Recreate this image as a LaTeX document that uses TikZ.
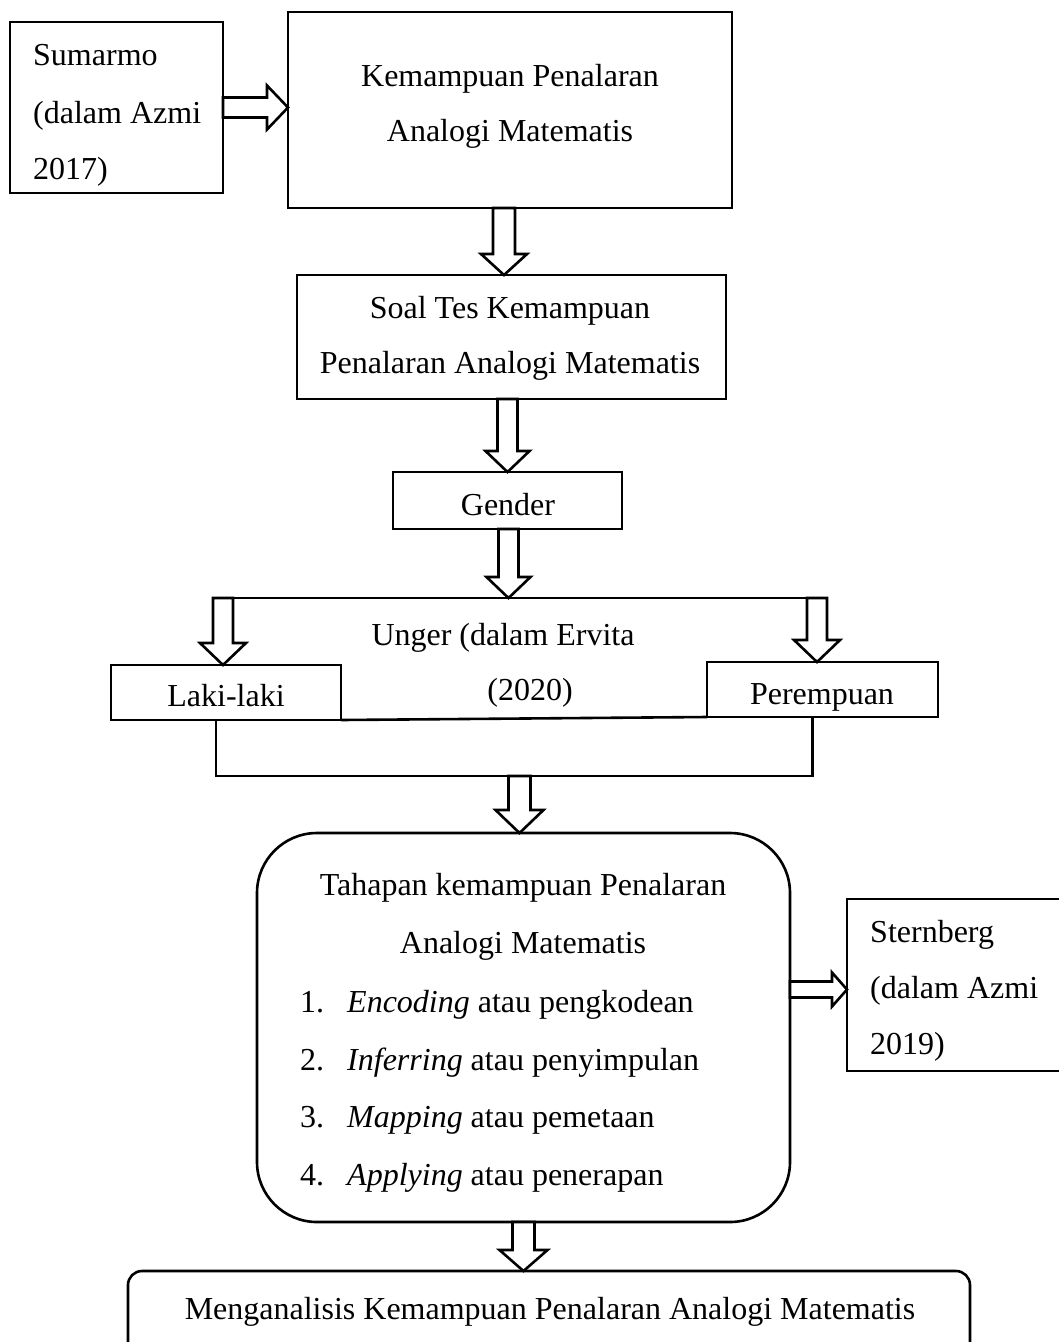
\documentclass[tikz,border=0pt]{standalone}
\usepackage{fontspec}
\setmainfont{Liberation Serif}
\usetikzlibrary{calc}
\newcommand{\vblock}[5]{\draw[arrb] let \p1=(#1), \p2=(#2) in
  (\x1-#3,\y1) -- (\x1+#3,\y1) -- (\x1+#3,\y2+#5) -- (\x1+#4,\y2+#5) -- (\x1,\y2)
  -- (\x1-#4,\y2+#5) -- (\x1-#3,\y2+#5) -- cycle;}
\newcommand{\hblock}[5]{\draw[arrb] let \p1=(#1), \p2=(#2) in
  (\x1,\y1+#3) -- (\x2-#5,\y1+#3) -- (\x2-#5,\y1+#4) -- (\x2,\y1)
  -- (\x2-#5,\y1-#4) -- (\x2-#5,\y1-#3) -- (\x1,\y1-#3) -- cycle;}
\begin{document}
\begin{tikzpicture}[x=1pt,y=-1pt,
  bx/.style={draw,line width=2.6pt,inner sep=0pt,outer sep=0pt},
  txt/.style={inner sep=0pt,font=\fontsize{32}{38}\selectfont},
  ln/.style={line width=2.6pt},
  arrb/.style={draw,fill=white,line width=2.6pt,line join=miter}]
\clip (0,0) rectangle (1059,1342);
\fill[white] (0,0) rectangle (1059,1342);
% boxes
\node[bx,minimum width=213pt,minimum height=171pt] (sum) at (116.5,107.5) {};
\node[bx,minimum width=444pt,minimum height=196pt] (kem) at (510,110) {};
\node[bx,minimum width=429pt,minimum height=124pt] (soal) at (511.5,337) {};
\node[bx,minimum width=229pt,minimum height=57pt] (gen) at (507.5,500.5) {};
\node[bx,minimum width=230pt,minimum height=55pt] (laki) at (226,692.5) {};
\node[bx,minimum width=231pt,minimum height=55pt] (per) at (822.5,689.5) {};
\node[bx,rounded corners=60pt,minimum width=533pt,minimum height=389pt] (tah) at (523.5,1027.5) {};
\node[bx,minimum width=218pt,minimum height=172pt] (stb) at (956,985) {};
\node[bx,rounded corners=14pt,minimum width=842pt,minimum height=90pt] (fin) at (549,1316) {};
% texts
\node[txt,anchor=base west] (t1) at (33,65) {Sumarmo};
\node[txt,anchor=base west] (t2) at (33,123) {(dalam Azmi};
\node[txt,anchor=base west] (t3) at (33,179) {2017)};
\node[txt,anchor=base] (t4) at (510,86) {Kemampuan Penalaran};
\node[txt,anchor=base] (t5) at (510,141) {Analogi Matematis};
\node[txt,anchor=base] (t6) at (510,318) {Soal Tes Kemampuan};
\node[txt,anchor=base] (t7) at (510,373) {Penalaran Analogi Matematis};
\node[txt,anchor=base] (t8) at (508,515) {Gender};
\node[txt,anchor=base] (t9) at (226,706) {Laki-laki};
\node[txt,anchor=base] (t10) at (822,704) {Perempuan};
\node[txt,anchor=base] (t11) at (503,645) {Unger (dalam Ervita};
\node[txt,anchor=base] (t12) at (530,700) {(2020)};
\node[txt,anchor=base] (t13) at (523,895) {Tahapan kemampuan Penalaran};
\node[txt,anchor=base] (t14) at (523,953) {Analogi Matematis};
\node[txt,anchor=base west] (n1) at (300,1012) {1.};
\node[txt,anchor=base west] (i1) at (347,1012) {\textit{Encoding} atau pengkodean};
\node[txt,anchor=base west] (n2) at (300,1070) {2.};
\node[txt,anchor=base west] (i2) at (347,1070) {\textit{Inferring} atau penyimpulan};
\node[txt,anchor=base west] (n3) at (300,1127) {3.};
\node[txt,anchor=base west] (i3) at (347,1127) {\textit{Mapping} atau pemetaan};
\node[txt,anchor=base west] (n4) at (300,1185) {4.};
\node[txt,anchor=base west] (i4) at (347,1185) {\textit{Applying} atau penerapan};
\node[txt,anchor=base west] (s1) at (870,942) {Sternberg};
\node[txt,anchor=base west] (s2) at (870,998) {(dalam Azmi};
\node[txt,anchor=base west] (s3) at (870,1054) {2019)};
\node[txt,anchor=base] (f1) at (550,1319) {Menganalisis Kemampuan Penalaran Analogi Matematis};
% branch coordinates
\coordinate (bl) at (223,598);
\coordinate (br) at (817,598);
\draw[ln] ($(bl)+(-10,0)$) -- ($(br)+(10,0)$);
\draw[ln] (laki.south east) -- (per.south west);
\draw[ln] ($(laki.south)+(-10,0)$) -- ++(0,56) coordinate (jl) -| ($(per.south)+(-10,0)$);
% block arrows
\hblock{sum.east}{kem.west}{10pt}{22pt}{21pt}
\vblock{$(kem.south)+(-6,0)$}{$(soal.north)+(-6,0)$}{11pt}{23pt}{21pt}
\vblock{$(soal.south)+(-4,0)$}{$(gen.north)+(-1,0)$}{10pt}{22pt}{21pt}
\vblock{$(gen.south)+(1,0)$}{$(gen.south |- bl)$}{10pt}{22pt}{21pt}
\vblock{bl}{laki.north -| bl}{10pt}{23pt}{22pt}
\vblock{br}{per.north -| br}{10pt}{23pt}{22pt}
\vblock{$(tah.north |- jl)+(-4,0)$}{$(tah.north)+(-4,0)$}{11pt}{24pt}{23pt}
\hblock{$(tah.east)+(0,-38)$}{$(stb.west)+(0,4)$}{8pt}{17pt}{15pt}
\vblock{$(tah.south)+(0,0)$}{$(fin.north)+(-25,0)$}{11pt}{24pt}{21pt}
\end{tikzpicture}
\end{document}
